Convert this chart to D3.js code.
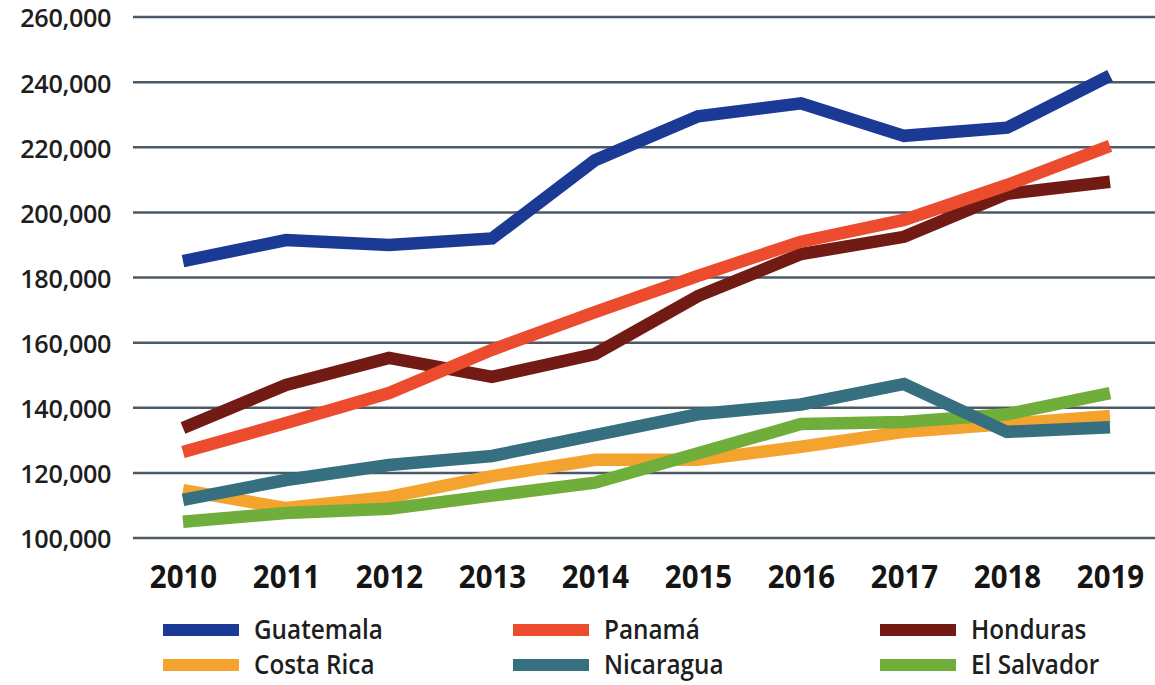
<!DOCTYPE html>
<html>
<head>
<meta charset="utf-8">
<script src="https://cdn.jsdelivr.net/npm/d3@7"></script>
<style>
  body { margin: 0; background: #fff; }
  svg { display: block; }
</style>
</head>
<body>
<svg id="chart" width="1155" height="685"></svg>
<script>
const years = [2010, 2011, 2012, 2013, 2014, 2015, 2016, 2017, 2018, 2019];
const yTicks = [100000, 120000, 140000, 160000, 180000, 200000, 220000, 240000, 260000];

const guatemala  = [185000, 191500, 190000, 192000, 216000, 229500, 233500, 223500, 226000, 242000];
const panama     = [126400, 135300, 144500, 157800, 169400, 180500, 191000, 197700, 208400, 220400];
const honduras   = [133800, 147000, 155300, 149500, 156500, 174300, 187200, 192500, 205700, 209400];
const costaRica  = [114700, 109200, 112600, 119000, 124000, 124000, 128000, 132600, 135000, 137500];
const nicaragua  = [111700, 117800, 122400, 125200, 131600, 138000, 141000, 147300, 132600, 134000];
const elSalvador = [105000, 107700, 109000, 113000, 117000, 126000, 135000, 135600, 138000, 144500];

const series = [
  { name: "Guatemala", values: guatemala, color: "#1b3a95" },
  { name: "Panamá", values: panama, color: "#ec4b2e" },
  { name: "Honduras", values: honduras, color: "#721b15" },
  { name: "Costa Rica", values: costaRica, color: "#f4a32f" },
  { name: "Nicaragua", values: nicaragua, color: "#356f80" },
  { name: "El Salvador", values: elSalvador, color: "#6fae3a" }
];
// drawing order: bottom-most first
const drawOrder = ["Costa Rica", "El Salvador", "Nicaragua", "Honduras", "Panamá", "Guatemala"];

const svg = d3.select("#chart");

const x = d3.scaleLinear().domain([2010, 2019]).range([183, 1110]);
const y = d3.scaleLinear().domain([100000, 260000]).range([538, 17]);

// grid
svg.append("g")
  .selectAll("line")
  .data(yTicks)
  .enter().append("line")
  .attr("x1", 133)
  .attr("x2", 1155)
  .attr("y1", d => y(d))
  .attr("y2", d => y(d))
  .style("stroke", "#4b5a66")
  .style("stroke-width", 2.5);

// y axis labels
const yAxis = d3.axisLeft(y)
  .tickValues(yTicks)
  .tickSize(0)
  .tickPadding(0)
  .tickFormat(d3.format(","));
svg.append("g")
  .attr("transform", "translate(111,0)")
  .call(yAxis)
  .call(g => g.select(".domain").remove())
  .selectAll("text")
  .attr("dy", "0.38em")
  .attr("transform", "scale(0.97,1)")
  .style("font-family", "'Open Sans', sans-serif")
  .style("font-weight", 600)
  .style("font-size", "26px")
  .style("letter-spacing", "-0.4px")
  .style("fill", "#1e1e1e");

// x axis labels
const xAxis = d3.axisBottom(x)
  .tickValues(years)
  .tickSize(0)
  .tickPadding(0)
  .tickFormat(d3.format("d"));
svg.append("g")
  .attr("transform", "translate(0,565)")
  .call(xAxis)
  .call(g => g.select(".domain").remove())
  .selectAll("text")
  .attr("dy", "0.72em")
  .attr("transform", "scale(0.92,1)")
  .style("font-family", "'Open Sans', sans-serif")
  .style("font-weight", "bold")
  .style("font-size", "32px")
  .style("fill", "#151515");

// lines
const line = d3.line()
  .x((d, i) => x(years[i]))
  .y(d => y(d));

svg.append("g")
  .selectAll("path")
  .data(drawOrder.map(n => series.find(s => s.name === n)))
  .enter().append("path")
  .attr("d", d => line(d.values))
  .style("fill", "none")
  .style("stroke", d => d.color)
  .style("stroke-width", 12.5)
  .style("stroke-linejoin", "miter");

// legend
const legendX = [163, 513, 880];
const legendY = [630, 665];
const legend = svg.append("g")
  .selectAll("g")
  .data(series)
  .enter().append("g")
  .attr("transform", (d, i) => `translate(${legendX[i % 3]},${legendY[Math.floor(i / 3)]})`);

legend.append("rect")
  .attr("x", 0)
  .attr("y", -6)
  .attr("width", 76)
  .attr("height", 12)
  .style("fill", d => d.color);

legend.append("text")
  .attr("dy", "0.34em")
  .attr("transform", "scale(0.9,1)")
  .attr("x", 91 / 0.9)
  .text(d => d.name)
  .style("font-family", "'Open Sans', sans-serif")
  .style("font-weight", 600)
  .style("font-size", "27px")
  .style("fill", "#1e1e1e");
</script>
</body>
</html>
